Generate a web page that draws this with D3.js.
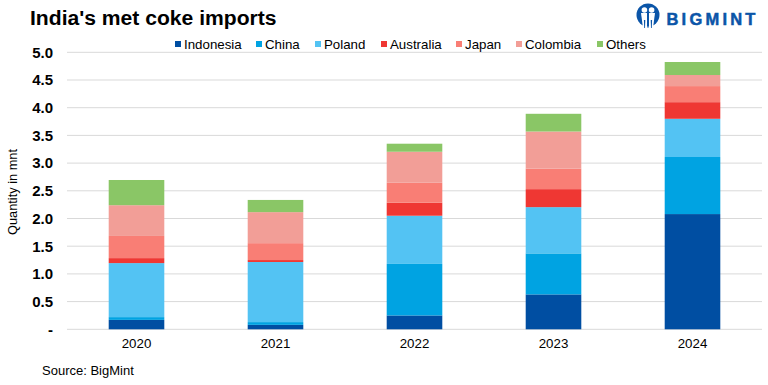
<!DOCTYPE html>
<html>
<head>
<meta charset="utf-8">
<script src="https://cdn.jsdelivr.net/npm/d3@7"></script>
<style>
  html, body { margin: 0; padding: 0; background: #fff; }
  svg { display: block; font-family: "Liberation Sans", Arial, sans-serif; }
</style>
</head>
<body>
<svg id="chart" width="768" height="385"></svg>
<script>
const years = ["2020", "2021", "2022", "2023", "2024"];
const countries = ["Indonesia", "China", "Poland", "Australia", "Japan", "Colombia", "Others"];
const colors = ["#004ea2", "#00a3e2", "#53c3f3", "#ef3733", "#f97e75", "#f29e97", "#8ac666"];
const yTicks = [0, 0.5, 1, 1.5, 2, 2.5, 3, 3.5, 4, 4.5, 5];

const indonesia = [0.17, 0.08, 0.25, 0.63, 2.08];
const china     = [0.05, 0.05, 0.93, 0.74, 1.03];
const poland    = [0.975, 1.085, 0.87, 0.835, 0.69];
const australia = [0.09, 0.035, 0.235, 0.325, 0.30];
const japan     = [0.40, 0.305, 0.36, 0.37, 0.29];
const colombia  = [0.555, 0.56, 0.56, 0.67, 0.20];
const others    = [0.455, 0.22, 0.145, 0.32, 0.235];
const seriesValues = [indonesia, china, poland, australia, japan, colombia, others];

const svg = d3.select("#chart");
const plotL = 67, plotR = 762, plotT = 52.3, plotB = 329.3;

const rows = years.map((y, i) => {
  const row = { year: y };
  countries.forEach((c, j) => { row[c] = seriesValues[j][i]; });
  return row;
});
const stacked = d3.stack().keys(countries)(rows);

const x = d3.scaleBand().domain(years).range([plotL, plotR]).paddingInner(0.6).paddingOuter(0.3);
const y = d3.scaleLinear().domain([0, 5]).range([plotB, plotT]);
const color = d3.scaleOrdinal().domain(countries).range(colors);

// ---------- gridlines ----------
svg.append("g").selectAll("line").data(yTicks).join("line")
  .attr("x1", plotL).attr("x2", plotR)
  .attr("y1", d => y(d)).attr("y2", d => y(d))
  .attr("stroke", "#d9d9d9").attr("stroke-width", 1);

// ---------- bars ----------
svg.append("g").selectAll("g").data(stacked).join("g")
  .attr("fill", d => color(d.key))
  .selectAll("rect").data(d => d).join("rect")
  .attr("x", d => x(d.data.year)).attr("width", x.bandwidth())
  .attr("y", d => y(d[1])).attr("height", d => y(d[0]) - y(d[1]));

// ---------- axes ----------
const gy = svg.append("g").attr("transform", `translate(${plotL},0)`)
  .call(d3.axisLeft(y).tickValues(yTicks).tickSize(0).tickPadding(14)
    .tickFormat(d => d === 0 ? "-" : d3.format(".1f")(d)));
gy.select(".domain").remove();
gy.selectAll("text").attr("font-family", "Liberation Sans").attr("font-size", 15)
  .attr("font-weight", 700).attr("fill", "#000");

const gx = svg.append("g").attr("transform", `translate(0,${plotB})`)
  .call(d3.axisBottom(x).tickSize(0).tickPadding(9));
gx.select(".domain").remove();
gx.selectAll("text").attr("font-family", "Liberation Sans").attr("font-size", 13.3).attr("fill", "#000");

svg.append("text").attr("transform", "translate(17,192) rotate(-90)")
  .attr("text-anchor", "middle").attr("font-size", 12.8).attr("fill", "#000")
  .text("Quantity in mnt");

// ---------- title, source ----------
svg.append("text").attr("x", 30).attr("y", 24.5).attr("font-size", 21.1).attr("font-weight", 700)
  .attr("fill", "#000").text("India's met coke imports");
svg.append("text").attr("x", 42).attr("y", 375).attr("font-size", 13).attr("fill", "#000")
  .text("Source: BigMint");

// ---------- legend ----------
const legendX = [175, 256, 315, 381, 456, 516, 597];
const legend = svg.append("g").selectAll("g").data(countries).join("g")
  .attr("transform", (d, i) => `translate(${legendX[i]},41)`);
legend.append("rect").attr("y", 0).attr("width", 6).attr("height", 6).attr("fill", d => color(d));
legend.append("text").attr("x", 9).attr("y", 7.5).attr("font-size", 13.3).attr("fill", "#000").text(d => d);

// ---------- logo: disc with two white figures ----------
const logoBlue = "#0b55a8";
const logo = svg.append("g").attr("transform", "translate(648,15)");
logo.append("circle").attr("r", 11.5).attr("fill", logoBlue);
logo.selectAll("circle.head").data([-3.6, 3.6]).join("circle").attr("class", "head")
  .attr("cx", d => d).attr("cy", -5).attr("r", 2.8).attr("fill", "#fff");
logo.selectAll("path.body").data([-1, 1]).join("path").attr("class", "body")
  .attr("d", d => `M${d * 1},-2 L${d * 7},-2 L${d * 5},13 L${d * 1},13 Z`)
  .attr("fill", "#fff");
logo.selectAll("path.leg").data([-3.4, 0, 3.4]).join("path").attr("class", "leg")
  .attr("d", d => `M${d - 0.7},5 L${d + 0.7},5 L${d + 0.4},13 L${d - 0.4},13 Z`)
  .attr("fill", logoBlue);
svg.append("text").attr("x", 666.5).attr("y", 25).attr("font-size", 16.5).attr("font-weight", 700)
  .attr("letter-spacing", 3.2).attr("stroke", logoBlue).attr("stroke-width", 0.5)
  .attr("fill", logoBlue).text("BIGMINT");
</script>
</body>
</html>
